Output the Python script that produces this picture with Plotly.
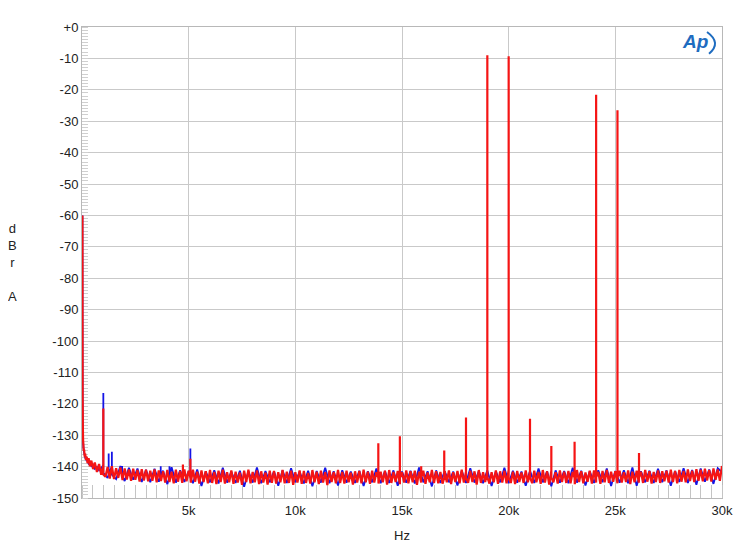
import plotly.graph_objects as go

# ---------------- data ----------------
# low-frequency rise (Hz, dBrA)
lf_hz = [20, 25, 30, 40, 50, 65, 80, 100, 125, 150, 180, 220, 260, 310, 370, 440, 520, 600, 700, 800, 900]
red_lf_db = [-60, -95, -118, -127, -131.5, -133.2, -135.0, -134.6, -136.8, -135.9, -137.9, -136.8,
             -138.9, -137.3, -139.9, -138.1, -140.8, -138.7, -141.7, -139.2, -142.6]
blue_lf_db = [-60, -95, -118, -127.5, -131.8, -133.8, -134.6, -135.6, -136.2, -137.1, -137.0, -138.2,
              -137.9, -139.0, -138.6, -139.8, -139.4, -140.7, -140.1, -141.2, -140.5]

# noise floor, red channel: 1000 Hz .. 30000 Hz every 100 Hz
red_floor_hz = list(range(1000, 30001, 100))
red_floor_db = [
    -139.6, -143.2, -140.1, -143.8, -139.9, -144.0, -140.5, -143.6, -140.3, -144.3,
    -140.6, -144.1, -140.9, -144.5, -140.7, -144.2, -141.1, -144.8, -140.8, -144.4,
    -141.0, -144.7, -141.3, -144.5, -140.9, -145.0, -141.2, -144.6, -141.5, -145.1,
    -141.1, -144.9, -141.6, -145.3, -141.0, -144.8, -141.4, -145.2, -140.9, -144.7,
    -141.3, -145.1, -141.0, -144.8, -141.6, -145.4, -141.2, -144.9, -141.5, -145.3,
    -141.1, -145.2, -141.7, -145.6, -141.3, -144.9, -141.0, -145.4, -141.8, -145.0,
    -141.2, -145.5, -141.6, -145.1, -141.9, -145.8, -141.3, -144.9, -141.0, -145.3,
    -141.7, -145.0, -141.2, -145.6, -141.5, -145.1, -141.9, -145.7, -141.3, -145.2,
    -141.4, -145.4, -141.8, -145.0, -141.1, -145.3, -141.6, -145.2, -141.3, -145.8,
    -141.8, -145.1, -141.2, -145.5, -141.4, -145.2, -142.0, -145.4, -141.1, -145.0,
    -141.6, -145.6, -141.3, -145.1, -141.8, -145.9, -141.2, -144.9, -141.7, -145.3,
    -141.1, -145.2, -141.7, -145.4, -141.3, -145.0, -141.9, -145.7, -141.5, -145.1,
    -141.4, -145.3, -141.0, -145.0, -141.6, -145.5, -141.3, -145.1, -141.8, -145.4,
    -141.6, -145.0, -141.3, -145.7, -141.1, -145.2, -141.7, -144.9, -141.4, -145.6,
    -141.8, -145.1, -141.2, -145.3, -141.5, -145.0, -141.3, -145.8, -141.6, -145.1,
    -141.3, -145.5, -141.9, -145.0, -141.1, -145.2, -141.5, -145.3, -141.7, -145.4,
    -141.5, -145.0, -141.2, -145.6, -141.8, -144.9, -141.4, -145.3, -141.0, -145.1,
    -141.6, -145.2, -141.3, -144.9, -141.5, -145.7, -141.1, -145.2, -141.8, -144.9,
    -141.4, -145.4, -141.8, -145.0, -141.2, -145.5, -141.5, -145.1, -141.3, -145.3,
    -141.1, -145.2, -141.6, -145.6, -141.4, -144.9, -141.9, -145.2, -141.2, -145.0,
    -141.6, -145.3, -141.3, -145.0, -141.7, -145.5, -141.1, -145.1, -141.5, -145.7,
    -141.3, -145.0, -141.8, -145.4, -141.2, -144.9, -141.6, -145.2, -141.4, -145.3,
    -141.7, -145.6, -141.1, -144.9, -141.5, -145.3, -141.9, -144.8, -141.3, -145.4,
    -141.2, -145.1, -141.7, -145.5, -141.4, -145.0, -141.1, -145.2, -141.6, -144.8,
    -141.5, -145.3, -141.3, -145.1, -141.8, -144.9, -141.2, -145.6, -141.6, -145.0,
    -141.3, -145.1, -141.6, -145.2, -141.1, -144.8, -141.5, -145.4, -141.7, -144.9,
    -141.2, -145.2, -141.5, -144.7, -141.3, -145.1, -141.0, -144.9, -141.4, -145.3,
    -141.1, -144.8, -141.4, -145.0, -140.9, -144.6, -141.3, -144.9, -140.8, -144.5,
    -141.0, -144.7, -140.7, -144.4, -141.1, -144.8, -140.6, -144.2, -140.9, -144.5,
    -139.8,
]

# noise floor, blue channel: 1000 Hz .. 30000 Hz every 200 Hz
blue_floor_hz = list(range(1000, 30001, 200))
blue_floor_db = [
    -139.5, -143.6, -140.0, -144.0, -139.8, -144.6, -140.4, -144.2, -140.6, -144.9,
    -141.0, -145.0, -140.7, -144.8, -141.3, -145.6, -140.2, -145.1, -141.2, -144.9,
    -141.4, -145.3, -140.9, -146.2, -141.5, -145.0, -141.2, -145.4, -140.4, -145.1,
    -141.6, -145.2, -141.3, -146.4, -141.5, -145.1, -140.3, -145.3, -141.4, -145.0,
    -141.5, -146.1, -141.2, -145.2, -140.5, -145.0, -141.6, -145.4, -141.3, -146.3,
    -141.4, -145.1, -140.4, -145.3, -141.5, -146.0, -141.2, -145.1, -141.6, -145.2,
    -141.3, -146.2, -141.5, -145.0, -140.6, -145.3, -141.4, -145.2, -141.2, -146.1,
    -141.6, -145.1, -141.3, -145.4, -140.3, -145.0, -141.5, -146.3, -141.2, -145.2,
    -141.4, -145.0, -141.6, -146.0, -141.3, -145.2, -140.5, -145.1, -141.4, -145.3,
    -141.2, -146.2, -141.5, -145.0, -140.4, -145.3, -141.3, -145.1, -141.6, -146.1,
    -141.3, -145.2, -140.6, -145.0, -141.5, -146.3, -141.2, -145.1, -141.4, -145.3,
    -140.4, -145.1, -141.3, -146.0, -141.5, -145.2, -141.2, -145.0, -140.6, -146.2,
    -141.4, -145.1, -141.2, -145.3, -140.3, -146.1, -141.5, -145.0, -141.3, -145.2,
    -140.7, -145.0, -141.2, -146.1, -141.4, -144.9, -140.5, -145.2, -141.1, -145.8,
    -140.6, -144.8, -140.9, -145.5, -140.5, -141.8,
]

# discrete spectral lines (Hz, peak dBrA, base dBrA)
red_spike_hz = [1000, 4730, 5080, 13890, 14900, 15900, 16980, 18000, 19000, 20000,
                21000, 22000, 23090, 24100, 25100, 26110]
red_spike_db = [-121.5, -139.3, -137.5, -132.6, -130.3, -139.9, -134.9, -124.4, -9.0, -9.35,
                -124.8, -133.4, -132.1, -21.6, -26.5, -135.7]
red_spike_base = [-142.5, -143.4, -143.4, -143.5, -143.5, -143.4, -143.6, -143.5, -143.4, -143.5,
                  -143.4, -143.5, -143.6, -143.4, -143.5, -143.4]

blue_spike_hz = [1000, 1250, 1400, 1880, 3690, 4100, 5080]
blue_spike_db = [-116.6, -135.8, -135.3, -139.8, -139.9, -139.9, -134.2]
blue_spike_base = [-142.0, -142.4, -142.6, -142.8, -143.2, -143.3, -143.4]

x_tick_vals = [5000, 10000, 15000, 20000, 25000, 30000]
x_tick_text = ["5k", "10k", "15k", "20k", "25k", "30k"]
y_tick_vals = [0, -10, -20, -30, -40, -50, -60, -70, -80, -90, -100, -110, -120, -130, -140, -150]
y_tick_text = ["+0", "-10", "-20", "-30", "-40", "-50", "-60", "-70", "-80", "-90",
               "-100", "-110", "-120", "-130", "-140", "-150"]


def build(lf_x, lf_y, fl_x, fl_y, sp_x, sp_y, sp_b):
    pts = list(zip(lf_x, lf_y)) + list(zip(fl_x, fl_y))
    for f, p, b in zip(sp_x, sp_y, sp_b):
        pts += [(f, b), (f, p), (f, b)]
    pts = sorted(pts, key=lambda t: t[0])
    return [p[0] for p in pts], [p[1] for p in pts]


bx, by = build(lf_hz, blue_lf_db, blue_floor_hz, blue_floor_db, blue_spike_hz, blue_spike_db, blue_spike_base)
rx, ry = build(lf_hz, red_lf_db, red_floor_hz, red_floor_db, red_spike_hz, red_spike_db, red_spike_base)

FONT = "Liberation Sans, Arial, sans-serif"
GRID = "#c9c9c9"
TXT = "#222222"
LOGO = "#1e6cc0"

fig = go.Figure()
fig.add_trace(go.Scatter(x=bx, y=by, mode="lines",
                         line=dict(color="#1414e6", width=1.8, simplify=False),
                         hoverinfo="skip", showlegend=False))
fig.add_trace(go.Scatter(x=rx, y=ry, mode="lines",
                         line=dict(color="#f51414", width=2.2, simplify=False),
                         hoverinfo="skip", showlegend=False))

fig.update_layout(
    width=741, height=548,
    margin=dict(l=74, r=27, t=14, b=58),
    paper_bgcolor="white", plot_bgcolor="white",
    font=dict(family=FONT, size=13, color=TXT),
    xaxis=dict(range=[0, 30000], tickvals=x_tick_vals, ticktext=x_tick_text,
               showgrid=True, gridcolor=GRID, gridwidth=1, zeroline=False,
               showline=True, linecolor="#b8b8b8", linewidth=1, mirror=True,
               ticks="", ticklen=0, layer="below traces",
               minor=dict(ticks="inside", ticklen=13, tickcolor="#c4c4c4", tickwidth=1,
                          dtick=500, tick0=0, showgrid=False),
               tickfont=dict(family=FONT, size=13, color=TXT)),
    yaxis=dict(range=[-150, 0], tickvals=y_tick_vals, ticktext=y_tick_text,
               showgrid=True, gridcolor=GRID, gridwidth=1, zeroline=False,
               showline=True, linecolor="#b8b8b8", linewidth=1, mirror=True,
               ticks="", ticklen=0, layer="below traces",
               minor=dict(ticks="inside", ticklen=6, tickcolor="#cfcfcf", tickwidth=1,
                          dtick=1, tick0=0, showgrid=False),
               tickfont=dict(family=FONT, size=13, color=TXT)),
    annotations=[
        dict(text="d<br>B<br>r<br><br>A", xref="paper", yref="paper", x=-0.109, y=0.5,
             xanchor="center", yanchor="middle", showarrow=False,
             font=dict(family=FONT, size=13, color=TXT)),
        dict(text="Hz", xref="paper", yref="paper", x=0.5, y=-0.08,
             xanchor="center", yanchor="middle", showarrow=False,
             font=dict(family=FONT, size=13, color=TXT)),
        dict(text="<b><i>Ap</i></b>", xref="paper", yref="paper", x=0.958, y=0.9685,
             xanchor="center", yanchor="middle", showarrow=False,
             font=dict(family=FONT, size=19, color=LOGO)),
    ],
    shapes=[
        dict(type="path", xref="paper", yref="paper",
             path="M 0.9766,0.9895 Q 1.0,0.9664 0.9797,0.9433",
             line=dict(color=LOGO, width=2)),
    ],
)

fig.write_html("out.html")
